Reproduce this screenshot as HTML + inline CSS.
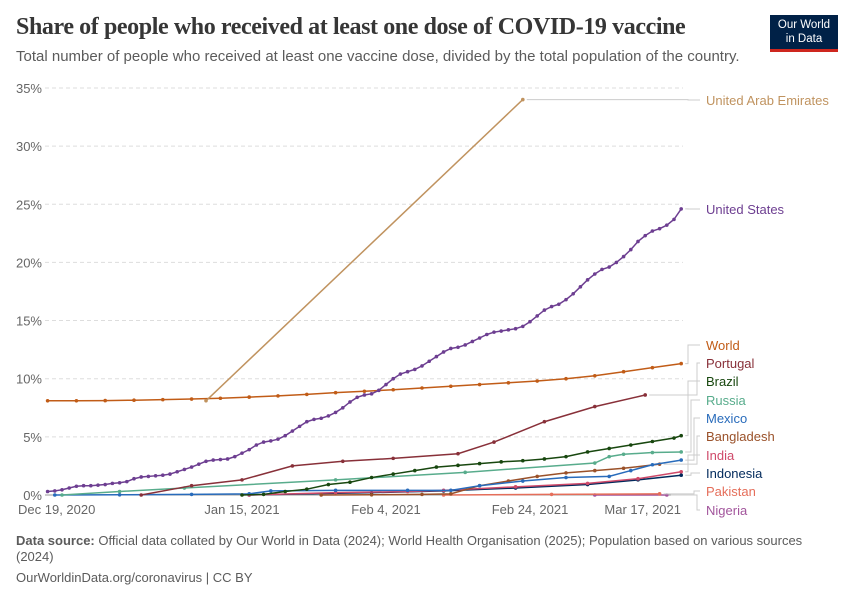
<!DOCTYPE html>
<html><head><meta charset="utf-8"><style>
body{margin:0;background:#fff;width:850px;height:600px;overflow:hidden;font-family:"Liberation Sans",sans-serif}
#title{position:absolute;left:16px;top:14px;font-family:"Liberation Serif",serif;font-size:24px;font-weight:bold;color:#363636;letter-spacing:-0.4px;white-space:nowrap}
#sub{position:absolute;left:16px;top:48px;font-size:15px;color:#5b5b5b;white-space:nowrap}
#logo{position:absolute;left:770px;top:15px;width:68px;height:37px;background:#002147;border-bottom:3px solid #ce261e;color:#fff;font-size:11.5px;line-height:14px;text-align:center;padding-top:3px;box-sizing:border-box}
#foot1{position:absolute;left:16px;top:533px;width:800px;font-size:13px;color:#5b5b5b;line-height:16px}
#foot2{position:absolute;left:16px;top:570px;font-size:13px;color:#5b5b5b}
</style></head><body>
<div id="title">Share of people who received at least one dose of COVID-19 vaccine</div>
<div id="sub">Total number of people who received at least one vaccine dose, divided by the total population of the country.</div>
<div id="logo">Our World<br>in Data</div>
<svg id="chart" width="850" height="600" style="position:absolute;left:0;top:0"></svg>
<div id="foot1"><b>Data source:</b> Official data collated by Our World in Data (2024); World Health Organisation (2025); Population based on various sources (2024)</div>
<div id="foot2">OurWorldinData.org/coronavirus | CC BY</div>
<script>
const yTicks=[0,5,10,15,20,25,30,35];
const xTickDays=[0,27,47,67,88];
const xTickLabels=["Dec 19, 2020","Jan 15, 2021","Feb 4, 2021","Feb 24, 2021","Mar 17, 2021"];
const seriesNames=["United Arab Emirates","United States","World","Portugal","Brazil","Russia","Mexico","Bangladesh","India","Indonesia","Pakistan","Nigeria"];
const seriesColors=["#c0935f","#6d3e91","#c15c17","#883039","#18470f","#58ac8c","#286bbb","#9a5129","#cf4a6a","#00295b","#e56e5a","#a2559c"];
const labelY=[100,209,345,363,381,400,418,436,455,473,491,510];
const usVals=[0.3,0.35,0.45,0.6,0.75,0.8,0.8,0.85,0.9,1.0,1.05,1.15,1.4,1.55,1.6,1.65,1.7,1.8,2.0,2.2,2.4,2.65,2.9,3.0,3.05,3.1,3.3,3.6,3.9,4.3,4.55,4.65,4.8,5.1,5.5,5.9,6.3,6.5,6.6,6.8,7.1,7.5,8.0,8.4,8.6,8.7,9.0,9.5,10.0,10.4,10.6,10.8,11.1,11.5,11.9,12.3,12.6,12.7,12.9,13.2,13.5,13.8,14.0,14.1,14.2,14.3,14.5,14.9,15.4,15.9,16.2,16.4,16.8,17.3,17.9,18.5,19.0,19.4,19.6,20.0,20.5,21.1,21.8,22.3,22.7,22.9,23.2,23.7,24.6];
const uaeDays=[22,66],uaeVals=[8.1,34.0];
const worldDays=[0,4,8,12,16,20,24,28,32,36,40,44,48,52,56,60,64,68,72,76,80,84,88];
const worldVals=[8.1,8.1,8.12,8.15,8.2,8.25,8.32,8.42,8.52,8.65,8.8,8.92,9.05,9.2,9.35,9.5,9.65,9.8,10.0,10.25,10.6,10.95,11.3];
const portugalDays=[13,20,27,34,41,48,57,62,69,76,83];
const portugalVals=[0,0.8,1.3,2.5,2.9,3.15,3.55,4.55,6.3,7.6,8.6];
const brazilDays=[27,30,33,36,39,42,45,48,51,54,57,60,63,66,69,72,75,78,81,84,87,88];
const brazilVals=[0,0.05,0.3,0.5,0.9,1.1,1.5,1.8,2.1,2.4,2.55,2.7,2.85,2.95,3.1,3.3,3.7,4.0,4.3,4.6,4.9,5.1];
const russiaDays=[2,10,19,40,58,76,78,80,84,88];
const russiaVals=[0,0.3,0.6,1.3,1.95,2.75,3.3,3.5,3.65,3.7];
const mexicoDays=[1,10,20,28,31,40,50,56,60,66,72,78,81,84,88];
const mexicoVals=[0,0.02,0.05,0.1,0.35,0.4,0.4,0.4,0.8,1.2,1.5,1.6,2.1,2.6,3.0];
const bangDays=[38,45,52,56,60,64,68,72,76,80,85];
const bangVals=[0,0.02,0.05,0.1,0.8,1.2,1.6,1.9,2.1,2.3,2.65];
const indiaDays=[28,40,50,55,65,75,82,88];
const indiaVals=[0,0.2,0.3,0.4,0.7,1.0,1.4,2.0];
const indoDays=[28,45,55,65,75,82,88];
const indoVals=[0,0.2,0.35,0.6,0.9,1.3,1.7];
const pakDays=[55,70,85],pakVals=[0,0.05,0.1];
const nigDays=[76,86],nigVals=[0,0];

const svg=document.getElementById('chart');
const NS='http://www.w3.org/2000/svg';
const X0=47.6,PXD=7.2,Y0=495,PXP=11.63;
const xs=d=>X0+d*PXD, ys=v=>Y0-v*PXP;
function mk(t,a,p){const e=document.createElementNS(NS,t);for(const k in a)e.setAttribute(k,a[k]);(p||svg).appendChild(e);return e;}
yTicks.forEach(t=>{
  const g=mk('line',{x1:45,x2:683,y1:ys(t),y2:ys(t),stroke:t?'#dddddd':'#999',"stroke-dasharray":t?'4,3':'none'});
  
  
  const l=mk('text',{x:42,y:ys(t)+5,"text-anchor":"end","font-size":13,fill:'#666'});
  l.textContent=t+'%';
  
  
});
xTickDays.forEach((d,i)=>{
  const anchor=i==0?'start':i==xTickDays.length-1?'end':'middle';
  const xx=i==0?18:i==xTickDays.length-1?681:xs(d);
  const l=mk('text',{x:xx,y:514,"text-anchor":anchor,"font-size":13,fill:'#666'});
  l.textContent=xTickLabels[i];
  
  
});
const usDays=usVals.map((v,i)=>i);
const all=[[uaeDays,uaeVals],[usDays,usVals],[worldDays,worldVals],[portugalDays,portugalVals],[brazilDays,brazilVals],[russiaDays,russiaVals],[mexicoDays,mexicoVals],[bangDays,bangVals],[indiaDays,indiaVals],[indoDays,indoVals],[pakDays,pakVals],[nigDays,nigVals]];
for(let s=all.length-1;s>=0;s--){
  const [D,V]=all[s],c=seriesColors[s];
  const g=mk('g',{});
  
  
  mk('polyline',{points:D.map((d,i)=>xs(d)+','+ys(V[i])).join(' '),fill:'none',stroke:c,"stroke-width":1.5},g);
  D.forEach((d,i)=>{const p=mk('circle',{cx:xs(d),cy:ys(V[i]),r:1.8,fill:c},g);
    
    });
  const ex=xs(D[D.length-1]),ey=ys(V[V.length-1]),ly=labelY[s];
  mk('path',{d:`M${ex+4},${ey}H${688+ (s>2?(s%4)*3:0)}V${ly}H700`,fill:'none',stroke:'#ccc',"stroke-width":1},g);
  const t=mk('text',{x:706,y:ly+5,"font-size":13,fill:c});
  t.textContent=seriesNames[s];
  
  
}
</script>
</body></html>
